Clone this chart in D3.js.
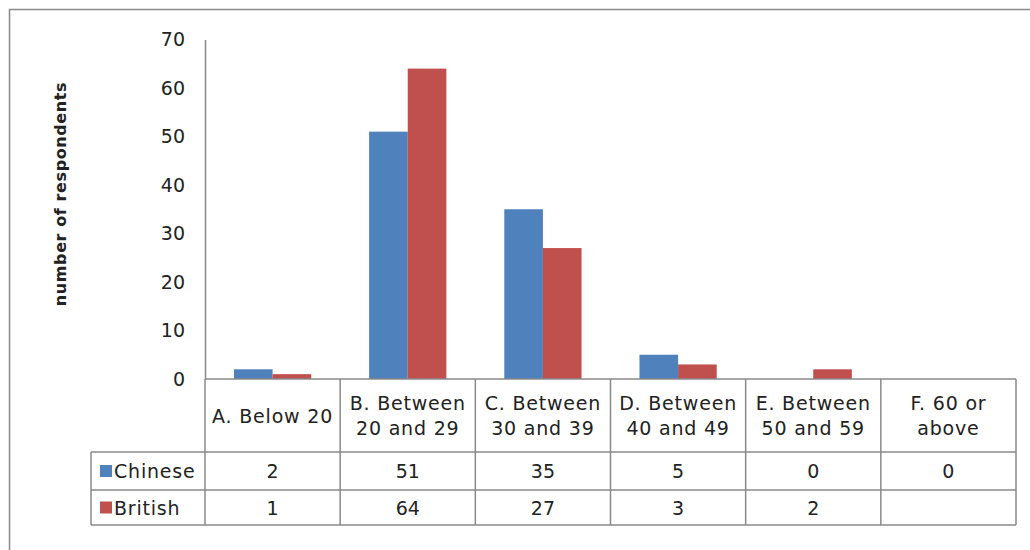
<!DOCTYPE html>
<html>
<head>
<meta charset="utf-8">
<script src="https://cdn.jsdelivr.net/npm/d3@7"></script>
<style>
  html, body { margin: 0; padding: 0; background: #fff; }
  svg { display: block; }
  text { font-family: "DejaVu Sans", sans-serif; fill: #222; }
</style>
</head>
<body>
<svg id="chart" width="1030" height="550"></svg>
<script>
// Age groups (each label split over the lines shown in the table header)
const categoryLines = [
  ["A. Below 20"],
  ["B. Between", "20 and 29"],
  ["C. Between", "30 and 39"],
  ["D. Between", "40 and 49"],
  ["E. Between", "50 and 59"],
  ["F. 60 or", "above"]
];
const categories = categoryLines.map(l => l.join(" "));
const seriesNames = ["Chinese", "British"];
const chinese = [2, 51, 35, 5, 0, 0];
const british = [1, 64, 27, 3, 2, null];
const yTicks = [0, 10, 20, 30, 40, 50, 60, 70];
const yTitle = "number of respondents";
const seriesColors = ["#4F81BD", "#C0504D"];

const seriesValues = [chinese, british];
const svg = d3.select("#chart");

// Chart area frame
svg.append("rect")
  .attr("x", 9.5).attr("y", 9.5)
  .attr("width", 1040).attr("height", 560)
  .attr("fill", "none").attr("stroke", "#8a8a8a").attr("stroke-width", 1.5);

const plotLeft = 205, plotRight = 1016, plotTop = 39.5, plotBottom = 379;
const legendLeft = 91;
const headerBottom = 452;
const rowBottoms = [490, 525];

const x = d3.scaleBand().domain(categories).range([plotLeft, plotRight]).padding(0);
const xs = d3.scaleBand().domain(seriesNames).range([0, x.bandwidth()])
  .paddingInner(0).paddingOuter(0.75);
const y = d3.scaleLinear().domain([0, 70]).range([plotBottom, plotTop]);
const color = d3.scaleOrdinal().domain(seriesNames).range(seriesColors);

// Bars
const groups = svg.append("g").selectAll("g")
  .data(categories).join("g")
  .attr("transform", d => `translate(${x(d)},0)`);
groups.selectAll("rect")
  .data((c, i) => seriesNames.map((s, k) => ({ s, v: seriesValues[k][i] })).filter(d => d.v != null))
  .join("rect")
  .attr("x", d => xs(d.s))
  .attr("width", xs.bandwidth())
  .attr("y", d => y(d.v))
  .attr("height", d => y(0) - y(d.v))
  .attr("fill", d => color(d.s));

// Y axis
const yAxis = d3.axisLeft(y).tickValues(yTicks).tickSize(0).tickPadding(20);
const ya = svg.append("g").attr("transform", `translate(${plotLeft},0)`).call(yAxis);
ya.select(".domain").attr("stroke", "#8a8a8a").attr("stroke-width", 1.5);
ya.selectAll("text").attr("font-size", 19).attr("font-family", "DejaVu Sans").attr("fill", "#222");

// Y axis title
svg.append("text")
  .attr("transform", `translate(66,194) rotate(-90)`)
  .attr("text-anchor", "middle")
  .attr("font-size", 16).attr("font-weight", "bold")
  .attr("letter-spacing", 0.6)
  .text(yTitle);

// Data table
const grid = svg.append("g").attr("stroke", "#8a8a8a").attr("stroke-width", 1.5).attr("fill", "none");
const tableBottom = rowBottoms[rowBottoms.length - 1];
// horizontal lines
grid.append("line").attr("x1", plotLeft).attr("x2", plotRight).attr("y1", plotBottom).attr("y2", plotBottom);
[headerBottom, ...rowBottoms].forEach(yy =>
  grid.append("line").attr("x1", legendLeft).attr("x2", plotRight).attr("y1", yy).attr("y2", yy));
// vertical lines
grid.append("line").attr("x1", legendLeft).attr("x2", legendLeft).attr("y1", headerBottom).attr("y2", tableBottom);
categories.forEach(c =>
  grid.append("line").attr("x1", x(c)).attr("x2", x(c)).attr("y1", plotBottom).attr("y2", tableBottom));
grid.append("line").attr("x1", plotRight).attr("x2", plotRight).attr("y1", plotBottom).attr("y2", tableBottom);

// Header labels
const headerMid = (plotBottom + headerBottom) / 2;
categories.forEach((c, i) => {
  const lines = categoryLines[i];
  const t = svg.append("text")
    .attr("x", x(c) + x.bandwidth() / 2)
    .attr("text-anchor", "middle")
    .attr("font-size", 19).attr("letter-spacing", 0.8);
  lines.forEach((ln, j) => {
    t.append("tspan")
      .attr("x", x(c) + x.bandwidth() / 2)
      .attr("y", headerMid + (j - (lines.length - 1) / 2) * 25)
      .attr("dominant-baseline", "central")
      .text(ln);
  });
});

// Series rows: legend key, name and values
const rowTops = [headerBottom, ...rowBottoms.slice(0, -1)];
seriesNames.forEach((s, k) => {
  const mid = (rowTops[k] + rowBottoms[k]) / 2;
  svg.append("rect")
    .attr("x", 100).attr("y", mid - 6).attr("width", 12).attr("height", 12)
    .attr("fill", color(s));
  svg.append("text")
    .attr("x", 114).attr("y", mid).attr("dominant-baseline", "central")
    .attr("font-size", 19).attr("letter-spacing", 0.8)
    .text(s);
  categories.forEach((c, i) => {
    const v = seriesValues[k][i];
    if (v == null) return;
    svg.append("text")
      .attr("x", x(c) + x.bandwidth() / 2).attr("y", mid)
      .attr("text-anchor", "middle").attr("dominant-baseline", "central")
      .attr("font-size", 19)
      .text(v);
  });
});
</script>
</body>
</html>
